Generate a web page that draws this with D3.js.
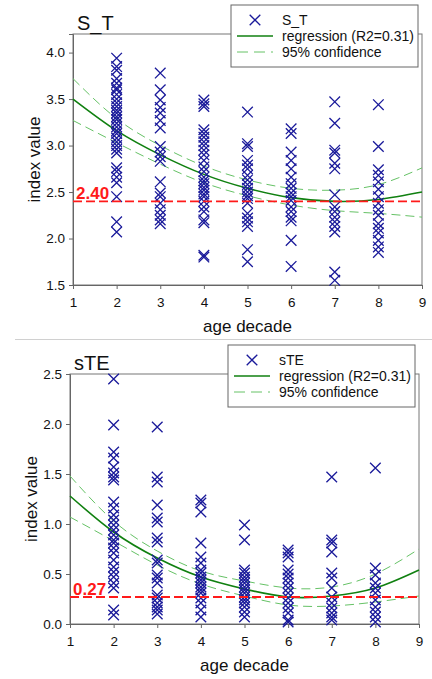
<!DOCTYPE html>
<html><head><meta charset="utf-8">
<script src="https://cdn.jsdelivr.net/npm/d3@7"></script>
<style>body{margin:0;background:#fff}svg{display:block}text{font-family:"Liberation Sans",Arial,sans-serif}</style>
</head><body>
<svg id="c" width="432" height="679"></svg>
<script>
// ---------- data ----------
const decades = [2, 3, 4, 5, 6, 7, 8];
const xTicks = [1, 2, 3, 4, 5, 6, 7, 8, 9];
const curveX = [1, 2, 3, 4, 5, 6, 7, 8, 9];

// S_T scatter values per decade
const stValues = [
  [3.94, 3.85, 3.81, 3.72, 3.67, 3.62, 3.60, 3.55, 3.50, 3.46, 3.42, 3.38, 3.35, 3.31, 3.28, 3.24, 3.20, 3.16, 3.13, 3.08, 3.04, 3.00, 2.96, 2.92, 2.76, 2.72, 2.66, 2.60, 2.45, 2.18, 2.07],
  [3.78, 3.60, 3.49, 3.41, 3.35, 3.27, 3.19, 2.99, 2.93, 2.88, 2.83, 2.61, 2.49, 2.45, 2.38, 2.31, 2.25, 2.20, 2.16],
  [3.49, 3.45, 3.42, 3.17, 3.13, 3.09, 3.04, 3.00, 2.95, 2.90, 2.84, 2.77, 2.72, 2.66, 2.62, 2.59, 2.55, 2.52, 2.48, 2.45, 2.40, 2.34, 2.29, 2.20, 2.17, 1.82, 1.80],
  [3.36, 3.02, 2.99, 2.84, 2.79, 2.75, 2.68, 2.63, 2.58, 2.54, 2.50, 2.46, 2.43, 2.38, 2.27, 2.22, 2.18, 2.13, 1.88, 1.75],
  [3.18, 3.13, 2.93, 2.84, 2.75, 2.66, 2.59, 2.54, 2.49, 2.45, 2.41, 2.34, 2.29, 2.23, 2.19, 1.98, 1.70],
  [3.47, 3.24, 2.95, 2.92, 2.81, 2.75, 2.47, 2.34, 2.29, 2.23, 2.18, 2.13, 2.07, 1.64, 1.55],
  [3.44, 2.99, 2.74, 2.68, 2.61, 2.53, 2.45, 2.38, 2.31, 2.25, 2.16, 2.11, 2.06, 1.98, 1.91, 1.85]
];
const stFit   = [3.50, 3.16, 2.90, 2.69, 2.54, 2.44, 2.40, 2.42, 2.50];
const stUpper = [3.72, 3.29, 3.00, 2.78, 2.63, 2.54, 2.52, 2.58, 2.76];
const stLower = [3.27, 3.03, 2.80, 2.60, 2.46, 2.36, 2.30, 2.27, 2.23];
const stTicksY = [1.5, 2.0, 2.5, 3.0, 3.5, 4.0];
const stThreshold = 2.40;

// sTE scatter values per decade
const steValues = [
  [2.45, 1.99, 1.72, 1.66, 1.57, 1.51, 1.47, 1.44, 1.22, 1.16, 1.09, 1.04, 0.99, 0.94, 0.89, 0.84, 0.81, 0.76, 0.71, 0.64, 0.57, 0.52, 0.47, 0.41, 0.36, 0.14, 0.09],
  [1.97, 1.47, 1.42, 1.19, 1.06, 1.02, 0.86, 0.82, 0.64, 0.61, 0.49, 0.46, 0.41, 0.29, 0.26, 0.21, 0.17, 0.14, 0.10],
  [1.24, 1.21, 1.12, 0.81, 0.67, 0.61, 0.54, 0.51, 0.47, 0.44, 0.41, 0.37, 0.34, 0.31, 0.26, 0.21, 0.14, 0.07],
  [0.99, 0.84, 0.54, 0.51, 0.47, 0.44, 0.41, 0.37, 0.34, 0.31, 0.27, 0.24, 0.21, 0.17, 0.12, 0.07],
  [0.74, 0.71, 0.67, 0.54, 0.50, 0.46, 0.41, 0.36, 0.31, 0.26, 0.21, 0.16, 0.11, 0.04, 0.02],
  [1.47, 0.84, 0.81, 0.72, 0.51, 0.46, 0.36, 0.27, 0.21, 0.16, 0.11, 0.07, 0.04],
  [1.56, 0.56, 0.49, 0.41, 0.36, 0.31, 0.24, 0.17, 0.12, 0.07, 0.02]
];
const steFit   = [1.28, 0.92, 0.66, 0.47, 0.35, 0.27, 0.28, 0.36, 0.54];
const steUpper = [1.48, 1.03, 0.73, 0.53, 0.43, 0.36, 0.37, 0.50, 0.75];
const steLower = [1.07, 0.83, 0.59, 0.40, 0.28, 0.19, 0.18, 0.22, 0.28];
const steTicksY = [0.0, 0.5, 1.0, 1.5, 2.0, 2.5];
const steThreshold = 0.27;

// ---------- drawing ----------
const svg = d3.select("#c");
const MARK = "#1a1a9a";
const FONT = "'Liberation Sans', Arial, sans-serif";

function panel(o) {
  const g = svg.append("g");
  const x = d3.scaleLinear().domain([1, 9]).range([o.left, o.right]);
  const y = d3.scaleLinear().domain(o.yDomain).range([o.bottom, o.top]);

  // frame
  g.append("rect").attr("x", o.left).attr("y", o.top)
    .attr("width", o.right - o.left).attr("height", o.bottom - o.top)
    .attr("fill", "none").attr("stroke", "#777").attr("stroke-width", 1);

  // axes
  const ya = g.append("g").attr("transform", `translate(${o.left},0)`)
    .call(d3.axisLeft(y).tickValues(o.yTicks).tickFormat(d3.format(".1f")).tickSize(4).tickPadding(4));
  const xa = g.append("g").attr("transform", `translate(0,${o.bottom})`)
    .call(d3.axisBottom(x).tickValues(xTicks).tickFormat(d3.format("d")).tickSize(4).tickPadding(8));
  [ya, xa].forEach(a => {
    a.select(".domain").attr("stroke", "#666");
    a.selectAll(".tick line").attr("stroke", "#666");
    a.selectAll("text").attr("font-size", 13.5).attr("fill", "#111").attr("font-family", FONT);
  });

  // curves
  const line = (vals) => d3.line().x((d, i) => x(curveX[i])).y(d => y(d)).curve(d3.curveNatural)(vals);
  g.append("path").attr("d", line(o.upper)).attr("fill", "none").attr("stroke", "#66c266")
    .attr("stroke-width", 1).attr("stroke-dasharray", "9,5");
  g.append("path").attr("d", line(o.lower)).attr("fill", "none").attr("stroke", "#66c266")
    .attr("stroke-width", 1).attr("stroke-dasharray", "9,5");
  g.append("path").attr("d", line(o.fit)).attr("fill", "none").attr("stroke", "#108010")
    .attr("stroke-width", 1.6);

  // points
  const pts = [];
  o.values.forEach((col, i) => col.forEach(v => pts.push([decades[i], v])));
  const s = 5.3;
  g.append("g").selectAll("path").data(pts).join("path")
    .attr("d", d => {
      const cx = x(d[0]), cy = y(d[1]);
      return `M${cx - s},${cy - s}L${cx + s},${cy + s}M${cx - s},${cy + s}L${cx + s},${cy - s}`;
    })
    .attr("stroke", MARK).attr("stroke-width", 1.3).attr("fill", "none");

  // threshold
  g.append("line").attr("x1", o.left).attr("x2", o.right)
    .attr("y1", y(o.threshold)).attr("y2", y(o.threshold))
    .attr("stroke", "#ff1a1a").attr("stroke-width", 1.8).attr("stroke-dasharray", "9,4");
  g.append("text").attr("x", o.left + 3).attr("y", y(o.threshold) - 2.5)
    .attr("fill", "#ff1a1a").attr("font-weight", "bold").attr("font-size", 17)
    .text(d3.format(".2f")(o.threshold));

  // titles
  g.append("text").attr("x", o.left + 4).attr("y", o.top - 4).attr("font-size", 20).attr("fill", "#111").text(o.title);
  g.append("text").attr("transform", `translate(${o.left - 33},${(o.top + o.bottom) / 2}) rotate(-90)`)
    .attr("text-anchor", "middle").attr("font-size", 17).attr("fill", "#111").text("index value");
  g.append("text").attr("x", (o.left + o.right) / 2).attr("y", o.bottom + 47)
    .attr("text-anchor", "middle").attr("font-size", 17).attr("fill", "#111").text("age decade");

  // legend
  const L = o.legend;
  const lg = g.append("g").attr("transform", `translate(${L.x},${L.y})`);
  lg.append("rect").attr("width", L.w).attr("height", 62).attr("fill", "#fff").attr("stroke", "#666");
  const mx = 24, my = 15;
  lg.append("path").attr("d", `M${mx - s},${my - s}L${mx + s},${my + s}M${mx - s},${my + s}L${mx + s},${my - s}`)
    .attr("stroke", MARK).attr("stroke-width", 1.3);
  lg.append("line").attr("x1", 6).attr("x2", 42).attr("y1", 31).attr("y2", 31).attr("stroke", "#108010").attr("stroke-width", 1.6);
  lg.append("line").attr("x1", 6).attr("x2", 42).attr("y1", 47).attr("y2", 47).attr("stroke", "#66c266").attr("stroke-width", 1).attr("stroke-dasharray", "11,6");
  [o.title, "regression (R2=0.31)", "95% confidence"].forEach((t, i) => {
    lg.append("text").attr("x", 51).attr("y", 20 + i * 16).attr("font-size", 14).attr("fill", "#111").text(t);
  });
}

panel({
  title: "S_T", left: 73, right: 422, top: 34, bottom: 285, yDomain: [1.5, 4.2], yTicks: stTicksY,
  values: stValues, fit: stFit, upper: stUpper, lower: stLower, threshold: stThreshold,
  legend: { x: 231, y: 5, w: 187 }
});

svg.append("line").attr("x1", 15).attr("x2", 432).attr("y1", 339.5).attr("y2", 339.5).attr("stroke", "#d0d0d0");

panel({
  title: "sTE", left: 70, right: 419, top: 374, bottom: 624, yDomain: [0, 2.5], yTicks: steTicksY,
  values: steValues, fit: steFit, upper: steUpper, lower: steLower, threshold: steThreshold,
  legend: { x: 228, y: 345, w: 187 }
});
</script>
</body></html>
